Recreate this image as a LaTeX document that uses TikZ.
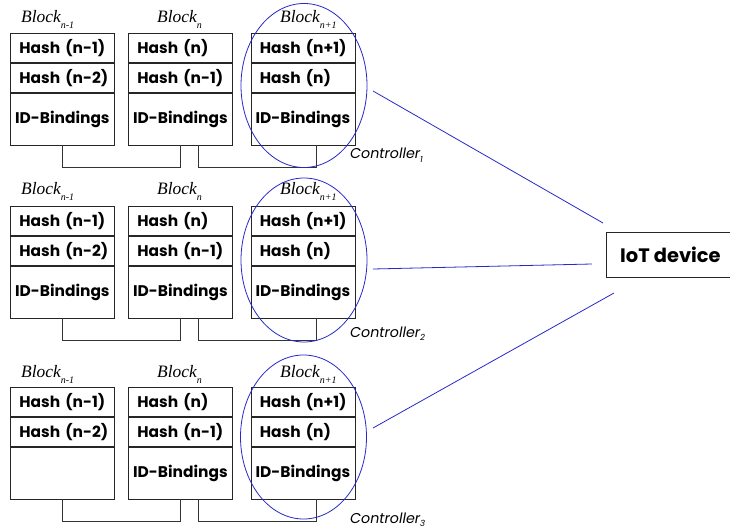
\documentclass[tikz,border=0pt]{standalone}
\usepackage{fontspec}
\setmainfont{Poppins}
\newfontfamily\blockfont{Liberation Serif}
\usetikzlibrary{positioning,shapes.geometric}
\definecolor{ctrlblue}{RGB}{40,40,200}
\exhyphenpenalty=10000
\newcommand\blk[1]{{\blockfont\itshape Block\raisebox{-6bp}{\fontsize{10}{10}\selectfont #1}}}
\newcommand\ctl[1]{{\itshape Controller\raisebox{-3.5bp}{\fontsize{8.5}{8.5}\selectfont #1}}}
\tikzset{
  cell/.style={draw=black!85, line width=0.8bp, anchor=north west, minimum width=104bp,
    minimum height=29bp, inner sep=0pt, font=\fontsize{15.5}{18}\selectfont\bfseries},
  hashcell/.style={cell, text width=86bp, inner xsep=9bp, align=left},
  idcell/.style={cell, minimum height=52bp, text width=104bp, align=center},
  blocklabel/.style={anchor=base west, inner sep=0pt, font=\fontsize{17.5}{20}\selectfont},
  ctrllabel/.style={anchor=base west, inner sep=0pt, font=\fontsize{14.3}{16}\selectfont},
  ctrl/.style={ellipse, draw=ctrlblue, line width=0.8bp, minimum width=126bp, minimum height=164bp},
  chain/.style={draw=black!80, line width=0.8bp},
  link/.style={draw=ctrlblue, line width=0.8bp}
}
\begin{document}
\begin{tikzpicture}[x=1bp, y=-1bp]
    \useasboundingbox (0,0) rectangle (730,529);

    % first chain
    \def\y{33}
    \node[hashcell] (a1) at (10,\y) {Hash~(n-1)};
    \node[hashcell, below=0pt of a1] (a2) {Hash~(n-2)};
    \node[idcell, below=0pt of a2] (a3) {ID-Bindings};
    \node[hashcell] (b1) at (128,\y) {Hash~(n)};
    \node[hashcell, below=0pt of b1] (b2) {Hash~(n-1)};
    \node[idcell, below=0pt of b2] (b3) {ID-Bindings};
    \node[hashcell] (c1) at (250.5,\y) {Hash~(n+1)};
    \node[hashcell, below=0pt of c1] (c2) {Hash~(n)};
    \node[idcell, below=0pt of c2] (c3) {ID-Bindings};
    \node[blocklabel] (la) at (21,\y-10) {\blk{n-1}};
    \node[blocklabel] (lb) at (157,\y-10) {\blk{n}};
    \node[blocklabel] (lc) at (280,\y-10) {\blk{n+1}};
    \draw[chain] (a3.south) -- ++(0,22) -| (b3.south);
    \draw[chain] ([xshift=18bp]b3.south) -- ++(0,22) -| ([xshift=13bp]c3.south);
    \node[ctrl] (ctrl1) at (304,85.5) {};
    \node[ctrllabel] (t1) at (350,159) {\ctl{1}};

    % second chain
    \def\y{206}
    \node[hashcell] (d1) at (10,\y) {Hash~(n-1)};
    \node[hashcell, below=0pt of d1] (d2) {Hash~(n-2)};
    \node[idcell, below=0pt of d2] (d3) {ID-Bindings};
    \node[hashcell] (e1) at (128,\y) {Hash~(n)};
    \node[hashcell, below=0pt of e1] (e2) {Hash~(n-1)};
    \node[idcell, below=0pt of e2] (e3) {ID-Bindings};
    \node[hashcell] (f1) at (250.5,\y) {Hash~(n+1)};
    \node[hashcell, below=0pt of f1] (f2) {Hash~(n)};
    \node[idcell, below=0pt of f2] (f3) {ID-Bindings};
    \node[blocklabel] (ld) at (21,\y-11) {\blk{n-1}};
    \node[blocklabel] (le) at (157,\y-11) {\blk{n}};
    \node[blocklabel] (lf) at (280,\y-11) {\blk{n+1}};
    \draw[chain] (d3.south) -- ++(0,22) -| (e3.south);
    \draw[chain] ([xshift=18bp]e3.south) -- ++(0,22) -| ([xshift=13bp]f3.south);
    \node[ctrl] (ctrl2) at (304,260) {};
    \node[ctrllabel] (t2) at (350,337) {\ctl{2}};

    % third chain
    \def\y{387}
    \node[hashcell] (g1) at (10,\y) {Hash~(n-1)};
    \node[hashcell, below=0pt of g1] (g2) {Hash~(n-2)};
    \node[cell, minimum height=52bp, below=0pt of g2] (g3) {};
    \node[hashcell] (h1) at (128,\y) {Hash~(n)};
    \node[hashcell, below=0pt of h1] (h2) {Hash~(n-1)};
    \node[idcell, below=0pt of h2] (h3) {ID-Bindings};
    \node[hashcell] (i1) at (250.5,\y) {Hash~(n+1)};
    \node[hashcell, below=0pt of i1] (i2) {Hash~(n)};
    \node[idcell, below=0pt of i2] (i3) {ID-Bindings};
    \node[blocklabel] (lg) at (21,\y-10) {\blk{n-1}};
    \node[blocklabel] (lh) at (157,\y-10) {\blk{n}};
    \node[blocklabel] (li) at (280,\y-10) {\blk{n+1}};
    \draw[chain] (g3.south) -- ++(0,22) -| (h3.south);
    \draw[chain] ([xshift=18bp]h3.south) -- ++(0,22) -| ([xshift=13bp]i3.south);
    \node[ctrl] (ctrl3) at (303.5,437) {};
    \node[ctrllabel] (t3) at (350,523) {\ctl{3}};

    % the device and its links
    \node[draw=black!85, line width=0.8bp, anchor=north west, minimum width=128bp, minimum height=45bp,
      font=\fontsize{19.5}{22}\selectfont\bfseries] (iot) at (606,232) {IoT device};
    \coordinate (s1) at (373,91);  \coordinate (d1e) at (603,223);
    \coordinate (s2) at (373,269); \coordinate (d2e) at (592,264);
    \coordinate (s3) at (373,428); \coordinate (d3e) at (614,293);
    \draw[link] (s1) -- (d1e);
    \draw[link] (s2) -- (d2e);
    \draw[link] (s3) -- (d3e);
\end{tikzpicture}
\end{document}
